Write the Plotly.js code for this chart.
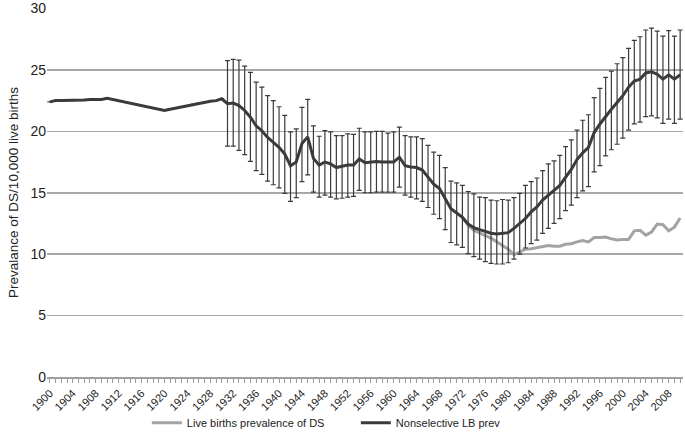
<!DOCTYPE html>
<html>
<head>
<meta charset="utf-8">
<script src="https://cdn.plot.ly/plotly-3.0.1.min.js"></script>
<style>
  body { margin: 0; background: #fff; }
  #plot { width: 685px; height: 437px; }
</style>
</head>
<body>
<div id="plot"></div>
<script>
// years on the category axis, 1900 - 2010
var years = [];
for (var yr = 1900; yr <= 2010; yr++) years.push(yr);

// nonselective live birth prevalence (per 10,000), 1900 - 2010
var nonselPrev = [
  22.4, 22.5, 22.5, 22.5, 22.5, 22.55, 22.55, 22.6, 22.6, 22.6,
  22.7, 22.6, 22.5, 22.4, 22.3, 22.2, 22.1, 22.0, 21.9, 21.8,
  21.7, 21.8, 21.9, 22.0, 22.1, 22.2, 22.3, 22.35, 22.45, 22.5,
  22.65, 22.25, 22.3, 22.1, 21.7, 21.15, 20.45, 20.05, 19.5, 19.1,
  18.7, 18.15, 17.2, 17.5, 19.0, 19.55, 17.8, 17.25, 17.5, 17.35,
  17.05, 17.15, 17.25, 17.25, 17.75, 17.45, 17.5, 17.55, 17.5, 17.5,
  17.5, 17.9, 17.2, 17.1, 17.05, 16.85, 16.3, 15.7, 15.35, 14.5,
  13.7, 13.35, 13.0, 12.45, 12.15, 12.0, 11.85, 11.7, 11.65, 11.7,
  11.75, 12.1, 12.5, 12.9, 13.45, 13.85, 14.4, 14.8, 15.2, 15.6,
  16.25, 16.9, 17.7, 18.25, 18.7, 19.9, 20.6, 21.25, 21.8, 22.35,
  22.9, 23.6, 24.1, 24.25, 24.75, 24.85, 24.65, 24.25, 24.6, 24.25,
  24.6
];

// error bar ends, 1931 - 2010
var ciYears = years.slice(31);
var ciHigh = [
  25.75, 25.85, 25.8, 25.3, 24.8, 24.0, 23.6, 22.9, 22.5, 22.0,
  21.3, 19.95, 20.2, 21.95, 22.6, 20.45, 19.6, 20.05, 19.95, 19.65,
  19.65, 19.8, 19.75, 20.25, 19.95, 19.95, 20.0, 20.0, 19.85, 19.95,
  20.35, 19.65, 19.55, 19.55, 19.4, 18.85, 18.3, 18.05, 17.05, 15.95,
  15.8, 15.6, 15.1, 14.9, 14.65, 14.6, 14.4, 14.35, 14.45, 14.4,
  14.6, 14.95, 15.6, 15.9, 16.2, 16.8, 17.35, 17.6, 18.05, 18.75,
  19.3, 20.1, 20.9, 21.35, 22.75, 23.5, 24.4, 24.9, 25.5, 26.0,
  26.75, 27.4, 27.7, 28.25, 28.4, 28.15, 27.75, 28.2, 27.75, 28.25
];
var ciLow = [
  18.8, 18.8, 18.45, 18.1, 17.55, 16.8, 16.5, 15.95, 15.65, 15.4,
  14.95, 14.3, 14.6, 15.9, 16.45, 15.05, 14.65, 14.8, 14.65, 14.5,
  14.55, 14.65, 14.7, 15.2, 15.0, 15.0, 15.05, 15.05, 15.05, 15.05,
  15.45, 14.8, 14.65, 14.5, 14.3, 13.8, 13.25, 12.9, 12.0, 10.95,
  10.75, 10.55, 10.05, 9.8, 9.6, 9.4, 9.25, 9.2, 9.2, 9.3,
  9.6, 10.0, 10.5, 10.85, 11.15, 11.7, 12.1, 12.5, 12.9, 13.55,
  14.0, 14.6, 15.15, 15.5, 16.7, 17.2, 18.0, 18.5, 18.95, 19.45,
  20.1, 20.6, 20.75, 21.2, 21.25, 21.1, 20.65, 21.0, 20.65, 21.0
];

// live births prevalence of DS, 1972 - 2010 (same as above before that)
var liveYears = years.slice(72);
var livePrev = [
  13.0, 12.35, 11.95, 11.7, 11.5, 11.3, 11.0, 10.75, 10.4, 9.95,
  10.2, 10.4, 10.45, 10.55, 10.65, 10.7, 10.65, 10.65, 10.8, 10.85,
  11.0, 11.1, 11.0, 11.35, 11.35, 11.4, 11.25, 11.15, 11.2, 11.2,
  11.9, 11.95, 11.55, 11.8, 12.45, 12.4, 11.9, 12.2, 12.95
];

var yTicks = [0, 5, 10, 15, 20, 25, 30];

// error arrays for plotly, null where there is no interval
var errPlus = years.map(function (y, i) {
  var k = ciYears.indexOf(y);
  return k < 0 ? null : ciHigh[k] - nonselPrev[i];
});
var errMinus = years.map(function (y, i) {
  var k = ciYears.indexOf(y);
  return k < 0 ? null : nonselPrev[i] - ciLow[k];
});

var tickText = years.map(function (y) {
  return (y - 1900) % 4 === 0 ? String(y) : '';
});

var trace1 = {
  x: liveYears,
  y: livePrev,
  name: 'Live births prevalence of DS',
  mode: 'lines',
  line: {color: '#a3a3a3', width: 3},
  type: 'scatter'
};

var trace2 = {
  x: years,
  y: nonselPrev,
  name: 'Nonselective LB prev',
  mode: 'lines',
  line: {color: '#3b3b3b', width: 3},
  error_y: {
    type: 'data',
    symmetric: false,
    array: errPlus,
    arrayminus: errMinus,
    color: '#3b3b3b',
    thickness: 1.2,
    width: 2.5
  },
  type: 'scatter'
};

var layout = {
  width: 685,
  height: 437,
  margin: {l: 47, r: 2, t: 8, b: 60, autoexpand: false},
  paper_bgcolor: '#fff',
  plot_bgcolor: '#fff',
  font: {family: 'Liberation Sans, Arial, sans-serif', color: '#222'},
  showlegend: true,
  legend: {
    orientation: 'h',
    x: 0.157,
    xanchor: 'left',
    y: -0.085,
    yanchor: 'top',
    bgcolor: 'rgba(0,0,0,0)',
    entrywidth: 164,
    font: {size: 11, color: '#222'},
    traceorder: 'normal'
  },
  xaxis: {
    range: [1899.5, 2010.5],
    tickmode: 'array',
    tickvals: years,
    ticktext: tickText,
    tickangle: -45,
    tickfont: {size: 11, color: '#222'},
    ticks: 'outside',
    ticklen: 4,
    tickwidth: 1,
    tickcolor: '#999',
    showgrid: false,
    showline: true,
    linecolor: '#a0a0a0',
    linewidth: 1.5,
    zeroline: false
  },
  yaxis: {
    range: [0, 30.04],
    tickmode: 'array',
    tickvals: yTicks,
    tickfont: {size: 14, color: '#222'},
    showgrid: true,
    gridcolor: '#a8a8a8',
    gridwidth: 1.5,
    zeroline: false,
    showline: false,
    ticks: '',
    title: {
      text: 'Prevalance of DS/10,000 live births',
      font: {size: 13.5, color: '#222'},
      standoff: 8
    }
  }
};

Plotly.newPlot('plot', [trace1, trace2], layout, {displayModeBar: false, staticPlot: true});
</script>
</body>
</html>
